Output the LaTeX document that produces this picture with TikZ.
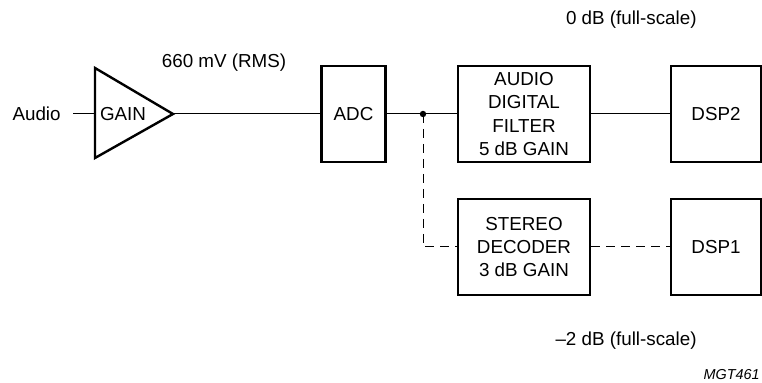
\documentclass[tikz,border=0pt]{standalone}
\usepackage{fontspec}
\setmainfont{Liberation Sans}
\begin{document}
\begin{tikzpicture}[x=0.5pt,y=-0.5pt,
  every node/.style={font=\fontsize{9.4}{11.7}\selectfont, inner sep=0pt, align=center},
  blk/.style={draw, line width=1.2pt, minimum height=48pt},
  wire/.style={line width=0.5pt},
  dwire/.style={wire, dash pattern=on 4.5pt off 3pt}]
\useasboundingbox (0,0) rectangle (762,383);
\node[anchor=east] (audio) at (61,114) {Audio};
\coordinate (ampin) at (95,114);
\coordinate (ampout) at (173,114);
\coordinate (amptop) at (95,68);
\coordinate (ampbot) at (95,158);
\draw[line width=1.2pt, line join=miter] (amptop) -- (ampout) -- (ampbot) -- cycle;
\node (gain) at (123,114) {GAIN};
\node (rms) at (224,63) {660 mV (RMS)};
\node[blk, minimum width=32pt] (adc) at (353.5,114) {ADC};
\node[blk, minimum width=66pt] (adf) at (524,114) {AUDIO\\DIGITAL\\FILTER\\5 dB GAIN};
\node[blk, minimum width=66pt] (dec) at (524,247) {STEREO\\DECODER\\3 dB GAIN};
\node[blk, minimum width=45pt] (dsp2) at (716,114) {DSP2};
\node[blk, minimum width=45pt] (dsp1) at (716,247) {DSP1};
\coordinate (split) at (423,114);
\draw[wire] ([xshift=6pt]audio.east) -- (ampin);
\draw[wire] (ampout) -- (adc);
\draw[wire] (adc) -- (adf);
\fill (split) circle (1.6pt);
\draw[dwire] (split) |- (dec.west);
\draw[wire] (adf) -- (dsp2);
\draw[dwire] (dec) -- (dsp1);
\node[anchor=east] (top) at (697,20) {0 dB (full-scale)};
\node[anchor=east] (bot) at (697,341) {–2 dB (full-scale)};
\node[anchor=east, font=\fontsize{7.2}{9}\selectfont\itshape] (ref) at (760,375) {MGT461};
\end{tikzpicture}
\end{document}
